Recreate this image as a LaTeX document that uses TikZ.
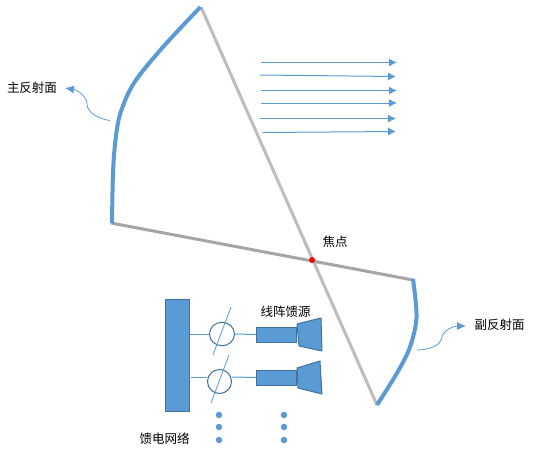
\documentclass[tikz,border=0pt]{standalone}
\usepackage{fontspec}
\setmainfont{Noto Sans CJK SC}
\usetikzlibrary{arrows.meta,shapes.geometric}
\definecolor{accent}{HTML}{5B9BD5}
\definecolor{edgeblue}{HTML}{41719C}
\definecolor{greyA}{HTML}{A5A5A5}
\definecolor{greyB}{HTML}{BDBDBD}
\tikzset{
  reflector/.style={draw=accent,line width=4pt,line cap=butt,line join=round},
  ray/.style={draw=accent,line width=1pt,-{Latex[length=8pt,width=8pt]}},
  callout/.style={draw=accent,line width=0.8pt,-{Latex[length=9pt,width=8pt]}},
  wire/.style={draw=accent,line width=1pt},
  label/.style={font=\fontsize{12.5}{14}\selectfont,inner sep=0pt,text=black},
  block/.style={draw=edgeblue,fill=accent,line width=1pt},
  phase/.style={draw=edgeblue,line width=1pt,fill=white,ellipse,minimum width=25pt,minimum height=23.5pt,inner sep=0pt},
  feeddot/.style={circle,fill=accent,minimum size=6.5pt,inner sep=0pt},
}
\begin{document}
\begin{tikzpicture}[x=1pt,y=-1pt]
\useasboundingbox (0,0) rectangle (542,456);
\fill[white] (0,0) rectangle (542,456);
% key points
\coordinate (mtop) at (201,7);
\coordinate (mbot) at (111,223);
\coordinate (stop) at (413,280);
\coordinate (sbot) at (377,405);
% axes
\draw[greyB,line width=3pt] (mtop) -- (sbot);
\draw[greyA,line width=3pt] (mbot) -- (stop);
% main reflector
\draw[reflector] plot[smooth,tension=0.55] coordinates {(200.5,7) (163,47) (134,83) (120.5,113) (115.5,140) (113,173) (112,223)};
% sub reflector
\draw[reflector] plot[smooth,tension=0.55] coordinates {(413,279) (416.5,317) (410,347) (397,373) (377,405)};
% focal point
\node[circle,fill=red,minimum size=6pt,inner sep=0pt] (focus) at (312,260) {};
\node[label] (focuslabel) at (335,242) {焦点};
% rays
\foreach \n/\xa/\ya/\xb/\yb in {1/261/62.5/397/62.5,2/260/75/396/76.5,3/261/90.5/397/90.5,4/261/103/397/103,5/260/118.5/396/118.5,6/263/132.5/396/131.5}{
  \coordinate (ra\n) at (\xa,\ya);
  \coordinate (rb\n) at (\xb,\yb);
  \draw[ray] (ra\n) -- (rb\n);
}
% callouts
\node[label] (mainlabel) at (32,88) {主反射面};
\node[label] (sublabel) at (499.5,325) {副反射面};
\coordinate (mfrom) at (110,120.5);
\coordinate (mto) at (65,88);
\coordinate (sfrom) at (417,350);
\coordinate (sto) at (466,326);
\draw[callout] (mfrom) .. controls (98,119) and (87,112) .. (87,104)
  .. controls (87,96) and (77,90) .. (mto);
\draw[callout] (sfrom) .. controls (428,350) and (441,346) .. (442,337)
  .. controls (444,329) and (455,326) .. (sto);
% feed network
\node[block,minimum width=24pt,minimum height=112pt,inner sep=0pt] (net) at (177,355) {};
\node[label] (netlabel) at (164.5,439) {馈电网络};
\node[label] (arraylabel) at (285.5,312) {线阵馈源};
% upper branch
\node[block,minimum width=40pt,minimum height=15pt,inner sep=0pt] (bar1) at (276.5,334.5) {};
\node[phase] (ph1) at (222,334) {};
\draw[wire] (net.east |- ph1) -- (ph1.west);
\draw[wire] (ph1.east) -- (bar1.west);
\coordinate (s1a) at (231,307);
\coordinate (s1b) at (213,355);
\draw[wire,line width=0.8pt] (s1a) -- (s1b);
\draw[block,line join=round] (297,324) -- (321,318) -- (322,351) -- (299,346) -- cycle;
% lower branch
\node[block,minimum width=40pt,minimum height=15pt,inner sep=0pt] (bar2) at (276.5,377.5) {};
\node[phase,minimum width=24pt,minimum height=24pt] (ph2) at (219.5,381.5) {};
\coordinate (w2) at (191,377);
\draw[wire] (w2) -- (ph2.west |- w2);
\draw[wire] (ph2.east |- w2) -- (bar2.west);
\coordinate (s2a) at (229,355);
\coordinate (s2b) at (211,403);
\draw[wire,line width=0.8pt] (s2a) -- (s2b);
\draw[block,line join=round] (297,368) -- (320,361) -- (322,394) -- (298,388) -- cycle;
% dots
\foreach \x/\c in {219/a,284/b}{
  \foreach \y/\r in {415/1,427/2,440/3}{
    \node[feeddot] (d\c\r) at (\x,\y) {};
  }
}
\end{tikzpicture}
\end{document}
